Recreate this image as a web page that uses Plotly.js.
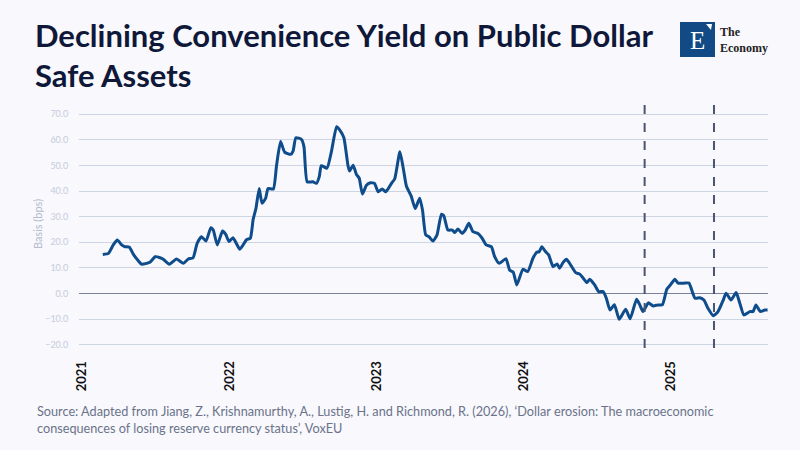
<!DOCTYPE html>
<html>
<head>
<meta charset="utf-8">
<script src="https://cdn.plot.ly/plotly-3.0.1.min.js"></script>
<style>
  html, body { margin: 0; padding: 0; background: #f8f8fd; }
  #chart { width: 800px; height: 450px; }
</style>
</head>
<body>
<div id="chart"></div>
<script>
// Time in decimal years
const timeYears = [
  2021.141, 2021.179, 2021.212, 2021.240, 2021.270, 2021.292, 2021.321, 2021.348, 2021.375, 2021.405,
  2021.439, 2021.462, 2021.496, 2021.530, 2021.552, 2021.593, 2021.643, 2021.688, 2021.722, 2021.756,
  2021.783, 2021.813, 2021.842, 2021.876, 2021.891, 2021.919, 2021.955, 2021.976, 2021.998, 2022.027,
  2022.073, 2022.118, 2022.145, 2022.163, 2022.183, 2022.204, 2022.224, 2022.247, 2022.265, 2022.299,
  2022.322, 2022.349, 2022.378, 2022.417, 2022.434, 2022.453, 2022.491, 2022.507, 2022.530, 2022.568,
  2022.593, 2022.611, 2022.627, 2022.665, 2022.695, 2022.729, 2022.752, 2022.779, 2022.808, 2022.819,
  2022.842, 2022.865, 2022.883, 2022.906, 2022.933, 2022.960, 2022.989, 2023.012, 2023.041, 2023.064,
  2023.103, 2023.125, 2023.161, 2023.186, 2023.204, 2023.238, 2023.265, 2023.295, 2023.313, 2023.335,
  2023.358, 2023.385, 2023.412, 2023.442, 2023.458, 2023.487, 2023.517, 2023.532, 2023.555, 2023.582,
  2023.605, 2023.629, 2023.656, 2023.690, 2023.720, 2023.747, 2023.781, 2023.804, 2023.833, 2023.881,
  2023.906, 2023.929, 2023.955, 2023.996, 2024.030, 2024.064, 2024.091, 2024.106, 2024.125, 2024.148,
  2024.172, 2024.200, 2024.227, 2024.245, 2024.268, 2024.291, 2024.313, 2024.354, 2024.381, 2024.403,
  2024.430, 2024.449, 2024.483, 2024.510, 2024.539, 2024.562, 2024.585, 2024.615, 2024.648, 2024.693,
  2024.722, 2024.766, 2024.788, 2024.811, 2024.845, 2024.879, 2024.912, 2024.942, 2024.970, 2024.997,
  2025.026, 2025.048, 2025.094, 2025.123, 2025.162, 2025.196, 2025.223, 2025.252, 2025.286, 2025.320,
  2025.354, 2025.375, 2025.407, 2025.442, 2025.467, 2025.494, 2025.535, 2025.557, 2025.576, 2025.606,
  2025.637, 2025.655
];
// Convenience yield, basis points
const yieldBps = [
  15.3, 15.7, 19.0, 20.9, 19.0, 18.3, 18.1, 15.3, 13.4, 11.5,
  11.8, 12.2, 14.4, 14.0, 13.4, 11.5, 13.5, 11.8, 13.5, 14.0,
  19.6, 22.2, 20.5, 25.7, 24.8, 19.0, 24.4, 23.1, 20.3, 21.8,
  17.3, 21.1, 21.6, 29.0, 33.3, 41.0, 35.2, 37.2, 41.0, 40.8,
  50.0, 59.3, 55.2, 54.3, 55.6, 60.8, 60.1, 57.3, 43.6, 43.6,
  43.0, 45.6, 49.9, 48.9, 55.3, 65.1, 63.8, 60.8, 50.1, 47.8,
  50.1, 46.5, 45.0, 38.8, 42.3, 43.2, 43.0, 39.7, 40.8, 39.7,
  43.0, 44.7, 55.3, 48.2, 42.0, 38.0, 33.2, 37.2, 32.6, 22.9,
  22.2, 20.5, 22.9, 31.0, 30.3, 24.8, 24.8, 23.8, 25.2, 23.5,
  24.8, 27.4, 24.2, 23.5, 21.6, 19.0, 18.3, 14.4, 11.8, 13.6,
  9.2, 8.4, 3.4, 9.5, 8.6, 13.8, 16.2, 16.2, 18.3, 16.4,
  15.1, 10.5, 11.6, 9.9, 12.2, 13.4, 11.8, 8.2, 7.6, 6.2,
  4.3, 5.6, 3.4, 0.8, 0.8, -1.8, -6.4, -4.3, -10.0, -6.1,
  -9.8, -2.2, -4.4, -7.0, -3.6, -4.8, -4.4, -4.4, 1.7, 3.4,
  5.6, 4.1, 4.1, 4.1, -1.8, -1.6, -2.5, -5.7, -8.6, -7.0,
  -2.5, 0.2, -2.5, 0.4, -3.7, -8.3, -7.0, -7.0, -4.4, -7.0,
  -6.4, -6.4
];
// Event markers (decimal years)
const eventYears = [2024.820, 2025.291];
const xRangeYears = [2020.980, 2025.658];
const yRange = [-21.2, 75.5];
const yTicks = [-20, -10, 0, 10, 20, 30, 40, 50, 60, 70];

const titleText = 'Declining Convenience Yield on Public Dollar<br>Safe Assets';
const yTitle = 'Basis (bps)';
const sourceLines = [
  'Source: Adapted from Jiang, Z., Krishnamurthy, A., Lustig, H. and Richmond, R. (2026), \u2018Dollar erosion: The macroeconomic',
  'consequences of losing reserve currency status\u2019, VoxEU'
];
const logoWords = ['The', 'Economy'];

function toDate(y) {
  const yr = Math.floor(y);
  const start = Date.UTC(yr, 0, 1);
  const end = Date.UTC(yr + 1, 0, 1);
  const d = new Date(start + (y - yr) * (end - start));
  return d.toISOString().slice(0, 10);
}

const xs = timeYears.map(toDate);
const font = 'Lato, "Source Sans Pro", "Noto Sans", sans-serif';
const serif = '"Liberation Serif", "DejaVu Serif", serif';
const bg = '#f8f8fd';

// Plot area pixel geometry helpers for paper coords
const L = 79, R = 768, T = 100, B = 348;
const px = X => (X - L) / (R - L);
const py = Y => (B - Y) / (B - T);

const shapes = eventYears.map(e => ({
  type: 'line', xref: 'x', yref: 'paper',
  x0: toDate(e), x1: toDate(e), y0: 0, y1: 1,
  line: { color: '#4b5470', width: 2, dash: 'dash' }
}));
// Logo square
shapes.push({
  type: 'rect', xref: 'paper', yref: 'paper',
  x0: px(680), x1: px(715), y0: py(57), y1: py(22),
  fillcolor: '#114a85', line: { width: 0 }
});
shapes.push({
  type: 'path', xref: 'paper', yref: 'paper',
  path: `M ${px(706)} ${py(24)} L ${px(712)} ${py(24)} L ${px(711)} ${py(30)} Z`,
  fillcolor: '#ffffff', line: { width: 0 }
});

const annotations = [
  { xref: 'paper', yref: 'paper', x: px(697), y: py(40), text: 'E', showarrow: false,
    font: { family: serif, size: 25, color: '#ffffff' },
    xanchor: 'center', yanchor: 'middle' },
  { xref: 'paper', yref: 'paper', x: px(719), y: py(40), text: logoWords.join('<br>'), showarrow: false,
    align: 'left', xanchor: 'left', yanchor: 'middle', borderpad: 0,
    font: { family: serif, size: 12, color: '#222222', weight: 'bold' } },
  { xref: 'paper', yref: 'paper', x: px(35), y: py(401), text: sourceLines.join('<br>'), showarrow: false,
    align: 'left', xanchor: 'left', yanchor: 'top',
    font: { family: font, size: 12.7, color: '#6b7389' } }
];

const trace = {
  type: 'scatter', mode: 'lines', x: xs, y: yieldBps,
  line: { color: '#0f4c8c', width: 3, shape: 'spline', smoothing: 0.5 },
  hoverinfo: 'skip', showlegend: false
};

const layout = {
  width: 800, height: 450,
  paper_bgcolor: bg, plot_bgcolor: bg,
  margin: { l: L, r: 800 - R, t: T, b: 450 - B, pad: 0 },
  title: {
    text: titleText, xref: 'container', yref: 'container',
    x: 35 / 800, xanchor: 'left', y: 1 - 47 / 450, yanchor: 'top',
    font: { family: font, size: 31, color: '#0f1838', weight: 'bold' }
  },
  xaxis: {
    type: 'date', range: xRangeYears.map(toDate),
    showgrid: false, zeroline: false, showline: false,
    tickformat: '%Y', dtick: 'M12', tick0: '2021-01-01',
    tickangle: -90, ticks: 'outside', ticklen: 7, tickcolor: 'rgba(0,0,0,0)',
    tickfont: { family: font, size: 13, color: '#111111', weight: 'bold' }
  },
  yaxis: {
    range: yRange, tickvals: yTicks, tickformat: '.1f',
    showgrid: true, gridcolor: '#cdd5e4', gridwidth: 1,
    zeroline: true, zerolinecolor: '#7a8399', zerolinewidth: 1,
    showline: false, ticks: 'outside', ticklen: 8, tickcolor: 'rgba(0,0,0,0)',
    tickfont: { family: font, size: 9, color: '#c5ccdc' },
    title: { text: yTitle, standoff: 0, font: { family: font, size: 11, color: '#b5bccd' } }
  },
  shapes: shapes,
  annotations: annotations
};

Plotly.newPlot('chart', [trace], layout, { displayModeBar: false, staticPlot: true });
</script>
</body>
</html>
